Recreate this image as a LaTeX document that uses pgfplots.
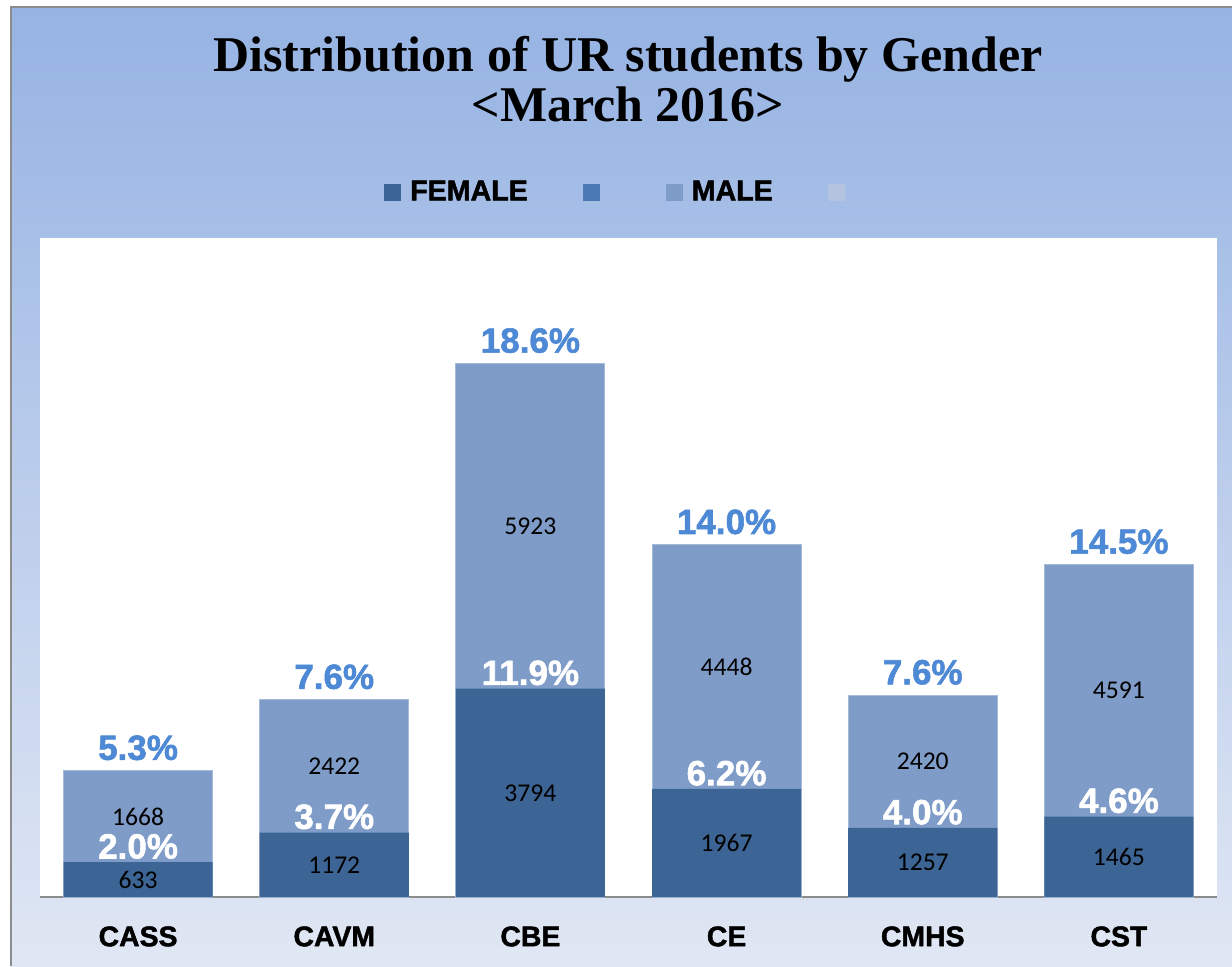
\documentclass[border=0pt]{standalone}
\usepackage{fontspec}
\setmainfont{Liberation Serif}
\newfontfamily\arialf{Liberation Sans}[BoldFeatures={FakeBold=1.6}]
\newfontfamily\calibf{Carlito}
\usepackage{pgfplots}
\pgfplotsset{compat=1.18}
\usepackage{pgfplotstable}

\definecolor{female}{HTML}{3C6494}
\definecolor{male}{HTML}{7F9CC8}
\definecolor{legtwo}{HTML}{4A7AB5}
\definecolor{legfour}{HTML}{B4C3E0}
\definecolor{pcttop}{HTML}{4E89D5}
\definecolor{bgtop}{HTML}{96B3E3}
\definecolor{bgbot}{HTML}{E0E7F4}
\definecolor{axisgray}{HTML}{8C8C8C}

% students per college, female / male, and shares of all UR students (%)
\pgfplotstableread{
x college female male fpct tpct
0 CASS  633  1668 2.0  5.3
1 CAVM  1172 2422 3.7  7.6
2 CBE   3794 5923 11.9 18.6
3 CE    1967 4448 6.2  14.0
4 CMHS  1257 2420 4.0  7.6
5 CST   1465 4591 4.6  14.5
}\data

\begin{document}
\begin{tikzpicture}[x=0.5pt,y=0.5pt]
\useasboundingbox (0,0) rectangle (1232,966);
\fill[white] (0,0) rectangle (1232,966);
\shade[top color=bgtop, bottom color=bgbot] (11,0) rectangle (1232,958.5);
\draw[axisgray, line width=1pt] (11,0) -- (11,958.5) -- (1232,958.5);

\node[font=\bfseries\fontsize{25}{25}\selectfont, anchor=base] at (628,894) {Distribution of UR students by Gender};
\node[font=\bfseries\fontsize{25}{25}\selectfont, anchor=base] at (628,844) {<March 2016>};

\begin{axis}[
    at={(20pt,34.5pt)}, anchor=south west,
    scale only axis, width=588.5pt, height=329.5pt,
    xmin=-0.5, xmax=5.5, ymin=0, ymax=12000,
    axis x line*=bottom, axis y line=none,
    x axis line style={draw=axisgray, line width=1pt},
    axis background/.style={fill=white},
    xtick={0,...,5},
    xticklabels={CASS,CAVM,CBE,CE,CMHS,CST},
    xticklabel style={font=\arialf\bfseries\fontsize{14.2}{14.2}\selectfont, inner sep=0pt, yshift=-14.5pt},
    major tick length=0pt,
    ytick=\empty,
    clip=false,
    legend image code/.code={\fill[#1, draw=none] (0pt,-4.25pt) rectangle (8.5pt,4.25pt);},
    legend columns=4,
    legend style={
        at={(0.4928,1.0698)}, anchor=center,
        draw=none, fill=none,
        font=\arialf\bfseries\fontsize{14.3}{14.3}\selectfont,
        nodes={inner xsep=0pt, inner ysep=1pt},
        /tikz/every odd column/.append style={column sep=4.5pt},
        /tikz/every even column/.append style={column sep=27.5pt},
    },
]
% male segment drawn as the full column, female over it
\addplot[ybar, bar width=0.76, bar shift=0pt, fill=male, draw=male!70!white, line width=0.5pt, forget plot]
    table[x=x, y expr=\thisrow{female}+\thisrow{male}] {\data};
\addplot[ybar, bar width=0.76, bar shift=0pt, fill=female, draw=none, forget plot]
    table[x=x, y=female] {\data};

% counts in the middle of each segment
\addplot[forget plot, draw=none, nodes near coords, point meta=explicit symbolic,
    nodes near coords style={anchor=center, text=black, font=\calibf\fontsize{12.8}{12.8}\selectfont}]
    table[x=x, y expr=\thisrow{female}/2, meta=female] {\data};
\addplot[forget plot, draw=none, nodes near coords, point meta=explicit symbolic,
    nodes near coords style={anchor=center, text=black, font=\calibf\fontsize{12.8}{12.8}\selectfont}]
    table[x=x, y expr=\thisrow{female}+\thisrow{male}/2, meta=male] {\data};

% shares
\addplot[forget plot, draw=none, nodes near coords={\pgfplotspointmeta\%}, point meta=explicit symbolic,
    nodes near coords style={anchor=south, inner sep=0pt, yshift=1.5pt, text=white, font=\arialf\bfseries\fontsize{17.5}{17.5}\selectfont}]
    table[x=x, y=female, meta=fpct] {\data};
\addplot[forget plot, draw=none, nodes near coords={\pgfplotspointmeta\%}, point meta=explicit symbolic,
    nodes near coords style={anchor=south, inner sep=0pt, yshift=5pt, text=pcttop, font=\arialf\bfseries\fontsize{17.5}{17.5}\selectfont}]
    table[x=x, y expr=\thisrow{female}+\thisrow{male}, meta=tpct] {\data};

\addlegendimage{fill=female}
\addlegendentry{FEMALE}
\addlegendimage{fill=legtwo}
\addlegendentry{}
\addlegendimage{fill=male}
\addlegendentry{MALE}
\addlegendimage{fill=legfour}
\addlegendentry{}
\end{axis}
\end{tikzpicture}
\end{document}
